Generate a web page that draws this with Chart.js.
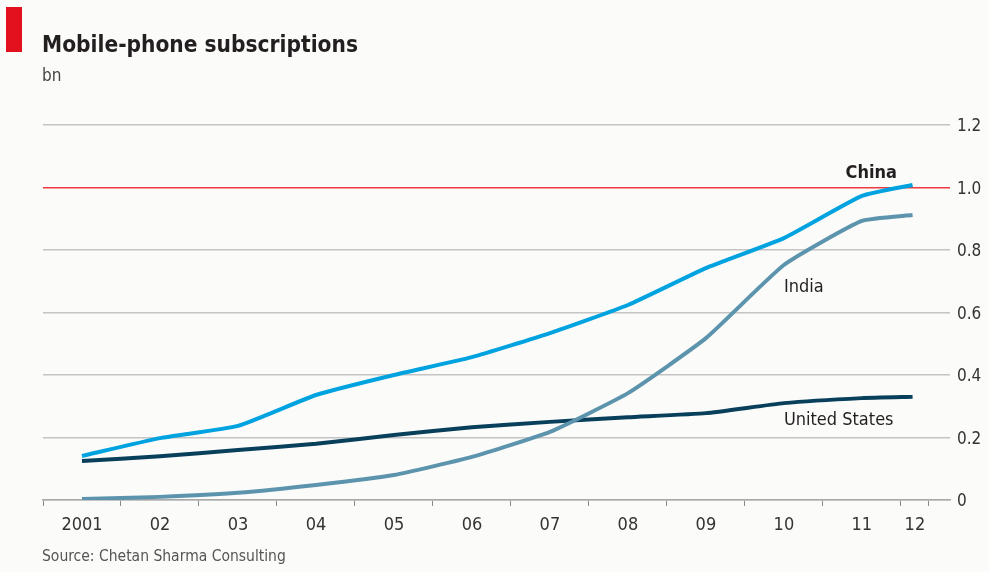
<!DOCTYPE html>
<html>
<head>
<meta charset="utf-8">
<script src="https://cdn.jsdelivr.net/npm/chart.js@4"></script>
<style>
  body { margin: 0; background: #fbfbfa; }
  #wrap { position: relative; width: 989px; height: 572px; font-family: "DejaVu Sans Condensed", "DejaVu Sans", sans-serif; }
  #redbar { position: absolute; left: 6px; top: 7px; width: 16px; height: 45px; background: #e3101e; }
  #title { position: absolute; left: 42px; top: 31px; font-size: 22.5px; font-weight: bold; color: #231f20; }
  #unit { position: absolute; left: 42px; top: 65px; font-size: 17px; color: #444; }
  #source { position: absolute; left: 42px; top: 547px; font-size: 15.5px; color: #555; }
  canvas { position: absolute; left: 0; top: 0; }
</style>
</head>
<body>
<div id="wrap">
  <canvas id="chart" width="989" height="572"></canvas>
  <div id="redbar"></div>
  <div id="title">Mobile-phone subscriptions</div>
  <div id="unit">bn</div>
  <div id="source">Source: Chetan Sharma Consulting</div>
</div>
<script>
// x positions are mid-year; 2012 covers only part of the year
const points = [2001.5, 2002.5, 2003.5, 2004.5, 2005.5, 2006.5, 2007.5, 2008.5, 2009.5, 2010.5, 2011.5, 2012.15];
const yearLabels = ['2001', '02', '03', '04', '05', '06', '07', '08', '09', '10', '11', '12'];
const labelPos = [2001.5, 2002.5, 2003.5, 2004.5, 2005.5, 2006.5, 2007.5, 2008.5, 2009.5, 2010.5, 2011.5, 2012.18];
const yearBounds = [2001, 2002, 2003, 2004, 2005, 2006, 2007, 2008, 2009, 2010, 2011, 2012, 2012.35];

const china = [0.141, 0.198, 0.237, 0.336, 0.40, 0.457, 0.534, 0.624, 0.742, 0.838, 0.973, 1.008];
const india = [0.003, 0.010, 0.023, 0.048, 0.080, 0.138, 0.218, 0.342, 0.518, 0.752, 0.893, 0.912];
const usa = [0.125, 0.140, 0.160, 0.180, 0.208, 0.233, 0.250, 0.265, 0.278, 0.310, 0.326, 0.330];

const yTicks = [0, 0.2, 0.4, 0.6, 0.8, 1.0, 1.2];

const seriesLabels = [
    { text: 'China', x: 2011.95, y: 1.0, align: 'right', bold: true, dy: -14 },
    { text: 'India', x: 2010.5, y: 0.68, align: 'left', bold: false, dy: 0 },
    { text: 'United States', x: 2010.5, y: 0.255, align: 'left', bold: false, dy: 0 }
];

const FONT = '"DejaVu Sans Condensed", "DejaVu Sans", sans-serif';

function toXY(vals) {
    return vals.map((v, i) => ({ x: points[i], y: v }));
}

const labelPlugin = {
    id: 'seriesLabels',
    afterDatasetsDraw(chart) {
        const ctx = chart.ctx;
        const xs = chart.scales.x, ys = chart.scales.y;
        ctx.save();
        ctx.textBaseline = 'middle';
        seriesLabels.forEach(l => {
            ctx.font = (l.bold ? 'bold ' : '') + '18px ' + FONT;
            ctx.fillStyle = '#231f20';
            ctx.textAlign = l.align;
            ctx.fillText(l.text, xs.getPixelForValue(l.x), ys.getPixelForValue(l.y) + l.dy);
        });
        ctx.restore();
    }
};

new Chart(document.getElementById('chart'), {
    type: 'line',
    data: {
        datasets: [
            { label: 'China', data: toXY(china), borderColor: '#00a3e0', borderWidth: 4 },
            { label: 'India', data: toXY(india), borderColor: '#5d94ad', borderWidth: 4 },
            { label: 'United States', data: toXY(usa), borderColor: '#08405c', borderWidth: 4 }
        ]
    },
    options: {
        responsive: false,
        animation: false,
        elements: {
            point: { radius: 0 },
            line: { tension: 0.15, borderCapStyle: 'butt' }
        },
        layout: { padding: { left: 43, top: 125, right: 0, bottom: 36 } },
        plugins: { legend: { display: false }, tooltip: { enabled: false } },
        scales: {
            x: {
                type: 'linear',
                min: 2001,
                max: 2012.63,
                afterBuildTicks: s => { s.ticks = yearBounds.map(v => ({ value: v })); },
                afterFit: s => { s.height = 6; },
                ticks: { display: false },
                grid: { drawOnChartArea: false, color: '#8a8a8a', tickLength: 6, lineWidth: 1 },
                border: { color: '#a9a9a9', width: 1.5 }
            },
            x2: {
                type: 'linear',
                position: 'bottom',
                min: 2001,
                max: 2012.63,
                afterBuildTicks: s => { s.ticks = labelPos.map(v => ({ value: v })); },
                afterFit: s => { s.height = 30; },
                ticks: {
                    padding: 9,
                    color: '#333',
                    font: { family: FONT, size: 18 },
                    maxRotation: 0,
                    autoSkip: false,
                    callback: (v, i) => yearLabels[i]
                },
                grid: { display: false, drawTicks: false },
                border: { display: false }
            },
            y: {
                position: 'right',
                min: 0,
                max: 1.2,
                afterBuildTicks: s => { s.ticks = yTicks.map(v => ({ value: v })); },
                afterFit: s => { s.width = 39; },
                ticks: {
                    padding: 7,
                    labelOffset: 2,
                    color: '#333',
                    font: { family: FONT, size: 17 },
                    callback: v => v === 0 ? '0' : v.toFixed(1)
                },
                grid: {
                    drawTicks: false,
                    color: c => c.tick && c.tick.value === 1 ? '#ee3a3f' : '#c4c4c4',
                    lineWidth: 1.5
                },
                border: { display: false }
            }
        }
    },
    plugins: [labelPlugin]
});
</script>
</body>
</html>
